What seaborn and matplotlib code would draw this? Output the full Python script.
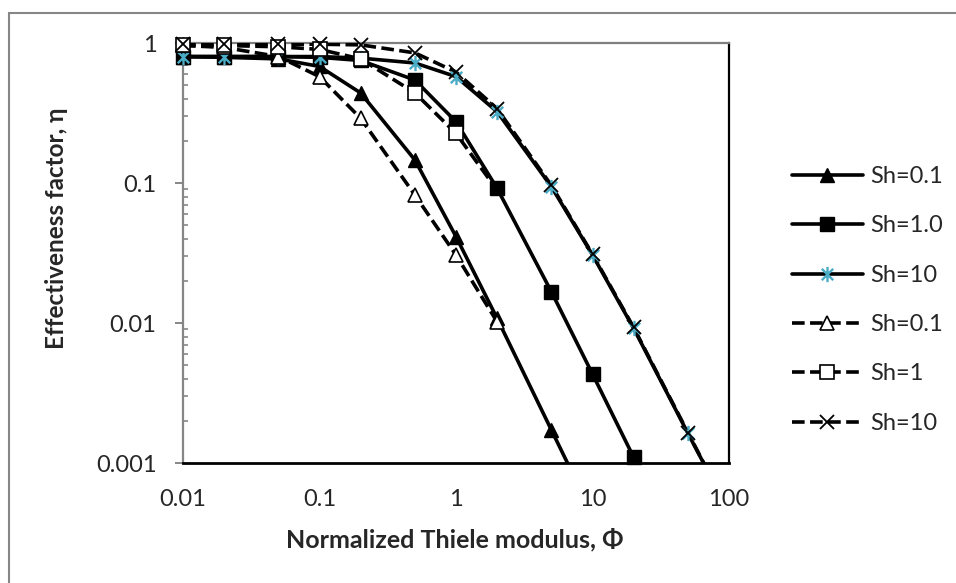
import matplotlib
matplotlib.use("Agg")
import matplotlib.pyplot as plt
import matplotlib.ticker as mticker
from matplotlib.lines import Line2D
from matplotlib.path import Path
import seaborn as sns
import pandas as pd

# Thiele modulus values where the series have points
phi = [0.01, 0.02, 0.05, 0.1, 0.2, 0.5, 1, 2, 5, 10, 20, 50, 100]

# effectiveness factor (solid = first model, dashed = second)
eta_sh01_solid = [0.80, 0.79, 0.77, 0.68, 0.44, 0.146, 0.0414, 0.0108, 0.00172, 0.00043, 0.00011, 0.000017, 0.0000043]
eta_sh1_solid = [0.80, 0.80, 0.80, 0.79, 0.75, 0.544, 0.274, 0.0917, 0.0167, 0.00432, 0.0011, 0.00018, 0.000044]
eta_sh10_solid = [0.80, 0.80, 0.80, 0.80, 0.78, 0.72, 0.575, 0.323, 0.094, 0.0306, 0.00917, 0.00163, 0.00045]
# the dashed Sh=0.1 and Sh=1 series stop where they join the solid curves
phi_sh01_dash = [0.01, 0.02, 0.05, 0.1, 0.2, 0.5, 1, 2]
eta_sh01_dash = [0.96, 0.93, 0.80, 0.575, 0.29, 0.082, 0.0306, 0.0102]
phi_sh1_dash = [0.01, 0.02, 0.05, 0.1, 0.2, 0.5, 1, 2]
eta_sh1_dash = [0.96, 0.96, 0.94, 0.90, 0.77, 0.44, 0.226, 0.089]
eta_sh10_dash = [0.98, 0.98, 0.98, 0.98, 0.97, 0.85, 0.62, 0.34, 0.096, 0.031, 0.0093, 0.00165, 0.00045]

labels = ["Sh=0.1", "Sh=1.0", "Sh=10", "Sh=0.1", "Sh=1", "Sh=10"]
x_ticks = [0.01, 0.1, 1, 10, 100]
x_tick_labels = ["0.01", "0.1", "1", "10", "100"]
y_ticks = [0.001, 0.01, 0.1, 1]
y_tick_labels = ["0.001", "0.01", "0.1", "1"]

TEAL = "#4BACC6"
GRAY = "#868686"
LW = 2.6
DASH = (0, (3.5, 1.5))

# asterisk like Excel's: vertical bar plus an x
star = Path([(0, -1), (0, 1), (-0.75, -0.75), (0.75, 0.75), (-0.75, 0.75), (0.75, -0.75)],
            [Path.MOVETO, Path.LINETO, Path.MOVETO, Path.LINETO, Path.MOVETO, Path.LINETO])

series = [
    (phi, eta_sh01_solid, "-", 99, dict(marker="^", ms=10.5, mfc="black", mec="black", mew=1)),
    (phi, eta_sh1_solid, "-", 99, dict(marker="s", ms=10, mfc="black", mec="black", mew=1)),
    (phi, eta_sh10_solid, "-", 99, dict(marker=star, ms=11, mfc=TEAL, mec=TEAL, mew=1.7)),
    (phi_sh01_dash, eta_sh01_dash, DASH, 99, dict(marker="^", ms=10.5, mfc="white", mec="black", mew=1.2)),
    (phi_sh1_dash, eta_sh1_dash, DASH, 7, dict(marker="s", ms=10, mfc="white", mec="black", mew=1.2)),
    (phi, eta_sh10_dash, DASH, 99, dict(marker="x", ms=10, mfc="black", mec="black", mew=1.3)),
]

sns.set_style("white")
plt.rcParams["font.family"] = ["Lato", "DejaVu Sans"]

fig = plt.figure(figsize=(9.56, 5.83), dpi=100)
ax = fig.add_axes([183 / 956, 1 - 463 / 583, 546 / 956, 420 / 583])

handles = []
for i, (xs, eta, ls, nmark, mk) in enumerate(series):
    df = pd.DataFrame({"phi": xs, "eta": eta})
    sns.lineplot(data=df, x="phi", y="eta", color="black", lw=LW, linestyle=ls,
                 ax=ax, legend=False, zorder=2 + i)
    shown = df.iloc[:nmark]
    shown = shown[(shown["eta"] >= 0.001) & (shown["eta"] <= 1.05)]
    sns.lineplot(data=shown, x="phi", y="eta", linestyle="none", ax=ax, legend=False,
                 clip_on=False, zorder=10 + i, **mk)
    handles.append(Line2D([], [], color="black", lw=LW, linestyle=ls, **mk))

ax.set_xscale("log")
ax.set_yscale("log")
ax.set_xlim(0.01, 100)
ax.set_ylim(0.001, 1)
ax.set_xlabel("")
ax.set_ylabel("")

ax.xaxis.set_major_locator(mticker.FixedLocator(x_ticks))
ax.xaxis.set_major_formatter(mticker.FixedFormatter(x_tick_labels))
ax.xaxis.set_minor_locator(mticker.NullLocator())
ax.yaxis.set_major_locator(mticker.FixedLocator(y_ticks))
ax.yaxis.set_major_formatter(mticker.FixedFormatter(y_tick_labels))
ax.yaxis.set_minor_locator(mticker.LogLocator(base=10, subs=range(2, 10)))
ax.yaxis.set_minor_formatter(mticker.NullFormatter())

ax.tick_params(axis="x", which="both", length=0, pad=18.5, labelsize=17)
ax.tick_params(axis="y", which="major", direction="out", length=6, width=1.4,
               color=GRAY, pad=13, labelsize=17, left=True)
ax.tick_params(axis="y", which="minor", direction="in", length=3.8, width=1.2,
               color=GRAY, left=True)

for side, col in [("left", GRAY), ("top", "#7f7f7f"), ("right", "black"), ("bottom", "black")]:
    ax.spines[side].set_visible(True)
    ax.spines[side].set_color(col)
    ax.spines[side].set_linewidth(1.6)
ax.spines["bottom"].set_linewidth(2.0)

fig.text(455 / 956, 1 - 540 / 583, "Normalized Thiele modulus, Φ", ha="center", va="center",
         fontsize=18, fontweight="bold")
fig.text(57 / 956, 1 - 228 / 583, "Effectiveness factor, η", ha="center", va="center",
         rotation=90, fontsize=17.5, fontweight="bold")

ax.legend(handles, labels, loc="center left", bbox_to_anchor=(792 / 956, 1 - 300 / 583),
          bbox_transform=fig.transFigure, frameon=False, fontsize=17, numpoints=1,
          handlelength=3.0, handletextpad=0.3, labelspacing=1.2, borderpad=0, borderaxespad=0)

# outer chart border (only top and left edges are visible in the crop)
fig.add_artist(Line2D([9 / 956, 9 / 956], [0, 1 - 13 / 583], color=GRAY, lw=1.5))
fig.add_artist(Line2D([9 / 956, 1], [1 - 13 / 583, 1 - 13 / 583], color=GRAY, lw=1.5))

fig.savefig("out.png", dpi=100)
